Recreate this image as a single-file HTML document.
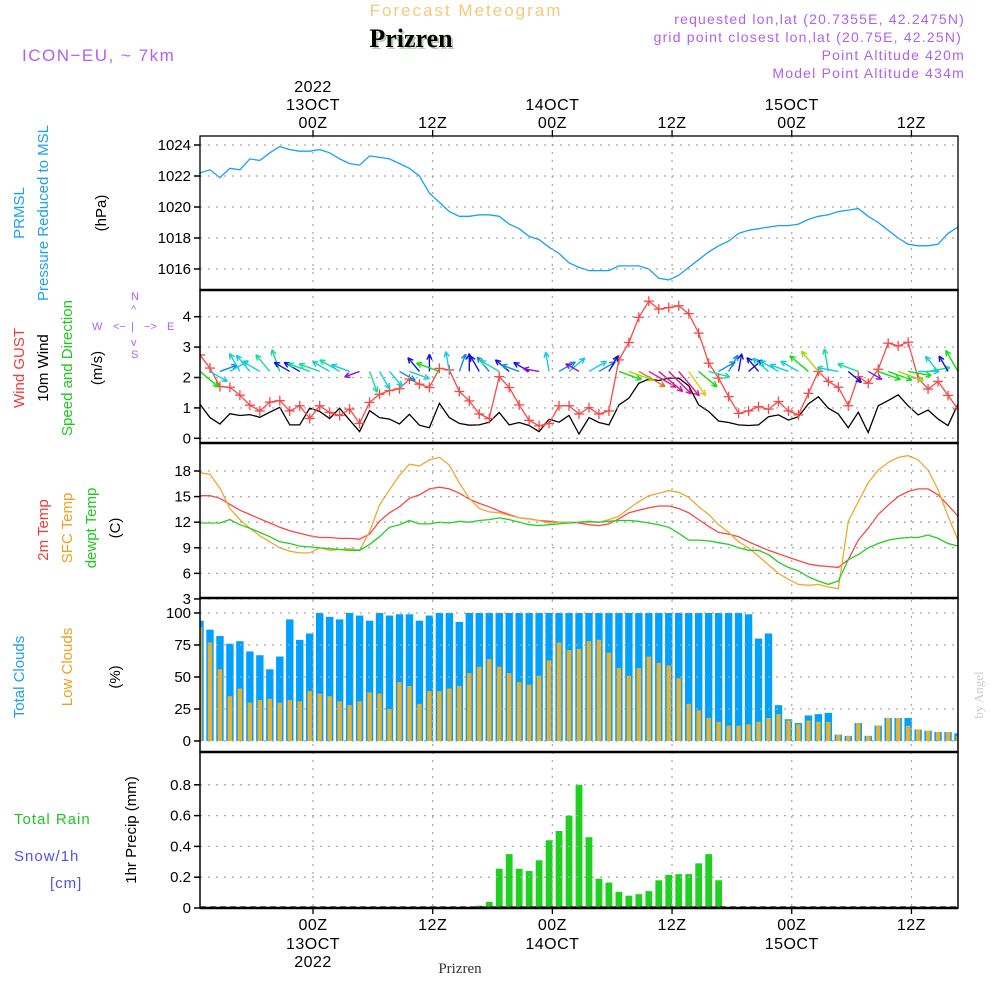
<!DOCTYPE html>
<html><head><meta charset="utf-8"><style>
html,body{margin:0;padding:0;background:#fff}
svg{display:block}
</style></head><body>
<svg id="chart" width="1000" height="1000" viewBox="0 0 1000 1000" xmlns="http://www.w3.org/2000/svg" font-family="Liberation Sans, sans-serif">
<rect width="1000" height="1000" fill="#fff"/>
<text x="466" y="16" text-anchor="middle" font-size="17" fill="#f5c97a" letter-spacing="2">Forecast Meteogram</text>
<text x="413" y="49" text-anchor="middle" font-size="26" font-weight="bold" style="font-family:'Liberation Serif',serif" fill="#b8d0b8">Prizren</text>
<text x="411" y="47" text-anchor="middle" font-size="26" font-weight="bold" style="font-family:'Liberation Serif',serif" fill="#000">Prizren</text>
<text x="22" y="61" font-size="17" fill="#b060f0" letter-spacing="1.5">ICON−EU, ~ 7km</text>
<g font-size="14" fill="#b060f0" text-anchor="end" letter-spacing="1.2">
<text x="965" y="24">requested lon,lat (20.7355E, 42.2475N)</text>
<text x="962" y="42">grid point closest lon,lat (20.75E, 42.25N)</text>
<text x="965" y="60">Point Altitude 420m</text>
<text x="965" y="78">Model Point Altitude 434m</text>
</g>
<g font-size="15">
<text transform="translate(24,213) rotate(-90)" text-anchor="middle" fill="#1ea0f0">PRMSL</text>
<text transform="translate(48,213) rotate(-90)" text-anchor="middle" fill="#1ea0f0">Pressure Reduced to MSL</text>
<text transform="translate(106,213) rotate(-90)" text-anchor="middle" fill="#000">(hPa)</text>
<text transform="translate(24,368) rotate(-90)" text-anchor="middle" fill="#f03c3c">Wind GUST</text>
<text transform="translate(48,368) rotate(-90)" text-anchor="middle" fill="#000">10m Wind</text>
<text transform="translate(72,368) rotate(-90)" text-anchor="middle" fill="#1ec81e">Speed and Direction</text>
<text transform="translate(102,368) rotate(-90)" text-anchor="middle" fill="#000">(m/s)</text>
<g fill="#b060f0" font-size="11"><text x="92" y="330">W</text><text x="167" y="330">E</text><text x="131" y="300">N</text><text x="131" y="358">S</text>
<text x="113" y="330">&lt;−</text><text x="131" y="330">|</text><text x="144" y="330">−&gt;</text><text x="131" y="313">^</text><text x="131" y="346">v</text></g>
<text transform="translate(48,530) rotate(-90)" text-anchor="middle" fill="#f03c3c">2m Temp</text>
<text transform="translate(72,528) rotate(-90)" text-anchor="middle" fill="#f0a020">SFC Temp</text>
<text transform="translate(96,528) rotate(-90)" text-anchor="middle" fill="#1ec81e">dewpt Temp</text>
<text transform="translate(120,528) rotate(-90)" text-anchor="middle" fill="#000">(C)</text>
<text transform="translate(24,677) rotate(-90)" text-anchor="middle" fill="#1ea0f0">Total Clouds</text>
<text transform="translate(72,667) rotate(-90)" text-anchor="middle" fill="#f0a020">Low Clouds</text>
<text transform="translate(120,677) rotate(-90)" text-anchor="middle" fill="#000">(%)</text>
<text x="14" y="824" fill="#1ec81e" letter-spacing="1">Total  Rain</text>
<text x="14" y="861" fill="#5050f0" letter-spacing="1">Snow/1h</text>
<text x="50" y="888" fill="#5050f0" letter-spacing="1">[cm]</text>
<text transform="translate(136,830) rotate(-90)" text-anchor="middle" fill="#000">1hr Precip (mm)</text>
</g>
<text x="460" y="973" text-anchor="middle" font-size="15" style="font-family:'Liberation Serif',serif" fill="#333">Prizren</text>
<text transform="translate(983,695) rotate(-90)" text-anchor="middle" font-size="13" style="font-family:'Liberation Serif',serif" fill="#ccc">by Angel</text>
<g id="plot"></g>
</svg>
<script>
const pressure=[1022.2,1022.4,1021.9,1022.5,1022.4,1023.1,1023.0,1023.5,1023.9,1023.7,1023.6,1023.6,1023.7,1023.5,1023.1,1022.8,1022.7,1023.3,1023.2,1023.1,1022.8,1022.5,1022.0,1020.9,1020.3,1019.7,1019.4,1019.4,1019.5,1019.5,1019.4,1018.9,1018.6,1018.1,1017.9,1017.4,1017.0,1016.4,1016.1,1015.9,1015.9,1015.9,1016.2,1016.2,1016.2,1016.0,1015.4,1015.3,1015.6,1016.1,1016.6,1017.1,1017.5,1017.8,1018.3,1018.5,1018.6,1018.7,1018.8,1018.8,1018.9,1019.2,1019.4,1019.5,1019.7,1019.8,1019.9,1019.4,1019.0,1018.5,1018.0,1017.6,1017.5,1017.5,1017.6,1018.3,1018.7];
const gust=[2.74,2.31,1.70,1.68,1.42,1.09,0.90,1.19,1.24,0.90,1.07,0.65,1.07,0.85,0.75,0.96,0.49,1.18,1.45,1.57,1.63,1.95,1.78,1.67,2.30,2.25,1.54,1.23,0.80,0.65,2.03,1.67,1.10,0.59,0.41,0.49,1.07,1.07,0.80,1.01,0.80,0.90,2.58,3.15,3.98,4.51,4.25,4.30,4.36,4.10,3.46,2.47,1.98,1.37,0.82,0.90,1.04,0.96,1.21,0.90,0.77,1.48,2.20,1.87,1.68,1.07,2.03,1.81,2.27,3.13,3.04,3.16,1.98,1.62,1.87,1.41,0.96];
const wind=[1.12,0.68,0.47,0.81,0.75,0.78,0.69,0.86,1.02,0.44,0.44,0.99,0.88,0.65,0.99,0.60,0.22,0.91,0.68,0.63,0.47,0.79,0.43,0.35,1.15,0.68,0.49,0.43,0.44,0.53,0.85,0.44,0.52,0.42,0.22,0.63,0.53,0.75,0.14,0.68,0.52,0.44,1.10,1.32,1.81,1.95,1.90,1.98,1.98,1.73,1.10,0.88,0.57,0.52,0.44,0.42,0.44,0.71,0.77,0.60,0.71,1.13,1.37,0.99,0.80,0.35,0.86,0.19,1.07,1.24,1.43,1.07,0.77,0.93,0.63,0.42,1.13];
const windDir=[-40,-30,20,30,120,130,150,130,110,150,150,160,160,150,150,160,200,-70,-60,-50,-30,-20,130,90,160,100,70,90,120,130,150,140,160,150,170,100,30,40,150,30,30,60,-20,-20,-30,-30,-40,-45,-50,-55,-40,-15,30,60,80,40,130,140,150,160,150,140,130,100,170,-40,160,-30,-20,-20,-20,-10,0,10,130,120,120];
const temp2m=[15.1,15.1,14.8,14.1,13.4,12.9,12.4,11.9,11.4,11.0,10.7,10.4,10.2,10.2,10.1,10.1,10.0,10.6,12.1,13.1,13.8,14.8,15.2,15.9,16.1,15.9,15.4,14.7,14.2,13.8,13.3,12.9,12.5,12.4,12.2,12.1,12.0,12.0,11.9,11.7,11.6,11.8,12.4,13.1,13.4,13.7,13.9,13.9,13.6,13.1,12.3,11.5,10.8,10.6,10.3,9.7,9.2,8.7,8.3,7.9,7.5,7.1,6.9,6.8,6.7,7.6,9.9,11.3,12.9,14.0,15.0,15.6,15.9,15.9,15.2,14.0,12.7];
const tempSfc=[17.8,17.6,16.0,13.6,12.3,11.3,10.4,9.7,9.0,8.6,8.4,8.4,9.0,8.7,8.8,8.9,8.7,10.9,14.0,15.8,17.5,18.8,18.6,19.3,19.6,18.7,16.6,14.8,13.6,13.2,13.1,12.8,12.5,12.4,12.2,11.9,12.0,12.0,12.0,12.0,12.0,12.3,12.7,13.6,14.4,15.1,15.4,15.7,15.5,14.9,13.8,12.9,11.7,10.8,9.7,9.0,8.0,7.0,6.0,5.3,4.7,4.6,4.7,4.4,4.2,12.1,14.4,16.6,18.1,19.0,19.6,19.8,19.3,18.1,15.8,12.7,9.9];
const dewpt=[11.9,11.9,11.9,12.3,11.7,11.3,10.8,10.3,9.7,9.5,9.2,9.1,9.0,8.9,8.8,8.7,8.7,9.4,10.3,11.4,11.7,12.2,11.8,11.8,12.0,11.9,12.1,12.0,12.2,12.3,12.5,12.3,12.0,11.7,11.6,11.7,11.8,11.9,12.0,12.1,12.0,12.1,12.2,12.2,12.1,11.9,11.7,11.4,10.7,9.9,9.9,9.8,9.6,9.4,9.0,8.7,8.7,8.2,7.3,6.7,6.3,5.6,5.1,4.7,5.1,7.6,8.2,9.0,9.5,9.9,10.1,10.2,10.2,10.5,10.1,9.5,9.2];
const totalClouds=[94,87,82,76,78,70,67,56,66,95,79,84,100,97,95,100,98,94,100,98,99,99,94,98,100,100,93,100,100,100,100,100,100,100,100,100,100,100,100,100,100,100,100,100,100,100,100,100,100,100,100,100,100,100,100,99,80,84,28,17,14,20,21,22,5,4,14,4,12,18,18,18,9,8,7,7,6];
const lowClouds=[89,77,56,35,41,30,32,33,30,32,31,39,37,35,31,28,31,38,37,25,46,43,29,39,39,41,43,53,58,64,58,53,46,44,51,63,77,71,72,78,79,69,57,51,57,66,61,59,49,29,24,18,15,12,12,13,15,18,21,16,13,16,15,15,5,4,14,4,12,18,18,12,9,8,7,7,4];
const precipStart=28;
const precip=[0.015,0.04,0.255,0.35,0.255,0.24,0.31,0.44,0.5,0.6,0.8,0.46,0.19,0.165,0.105,0.08,0.09,0.11,0.18,0.215,0.22,0.22,0.29,0.35,0.18];
const pressTicks=[1016,1018,1020,1022,1024];
const windTicks=[0,1,2,3,4];
const tempTicks=[3,6,9,12,15,18];
const cloudTicks=[0,25,50,75,100];
const precipTicks=[0,0.2,0.4,0.6,0.8];
const timeTicks=[11.33,23.33,35.33,47.33,59.33,71.33];
const timeHours=["00Z","12Z","00Z","12Z","00Z","12Z"];
const timeDays=["13OCT","","14OCT","","15OCT",""];

const NS="http://www.w3.org/2000/svg";
const plot=document.getElementById('plot');
const X0=200,X1=958,N=76;
const xs=i=>X0+i*(X1-X0)/N;
const yP=v=>145+(1024-v)*15.5;
const yW=v=>438.3-v*30.4;
const yT=v=>471+(18-v)*8.53;
const yC=v=>741-v*1.28;
const yR=v=>908-v*154;
const panels=[[136,290],[290,443],[443,598],[598,752],[752,908]];
function el(tag,attrs,parent){const e=document.createElementNS(NS,tag);for(const k in attrs)e.setAttribute(k,attrs[k]);(parent||plot).appendChild(e);return e;}
const defs=el('defs',{});
const cp=el('clipPath',{id:'clip'},defs);
el('rect',{x:X0,y:136,width:X1-X0,height:772},cp);
const clipG=el('g',{'clip-path':'url(#clip)'});

const grid=el('g',{stroke:'#aaa','stroke-width':1.3,'stroke-dasharray':'2,6'});


timeTicks.forEach(t=>el('line',{x1:xs(t),x2:xs(t),y1:136,y2:908},grid));
function hgrid(ticks,f,name,fmt){
  const g=el('g',{});
  
  
  ticks.forEach(v=>{
    const y=f(v);
    el('line',{x1:X0,x2:X1,y1:y,y2:y,stroke:'#aaa','stroke-width':1.3,'stroke-dasharray':'2,6'},g);
    el('line',{x1:X0-6,x2:X0,y1:y,y2:y,stroke:'#000','stroke-width':1.5},g);
    const t=el('text',{x:X0-9,y:y+5,'text-anchor':'end','font-size':15,fill:'#000'},g);
    t.textContent=fmt(v);
  });
}
hgrid(pressTicks,yP,'pressure-y-axis',v=>v);
hgrid(windTicks,yW,'wind-y-axis',v=>v);
hgrid(tempTicks,yT,'temp-y-axis',v=>v);
hgrid(cloudTicks,yC,'cloud-y-axis',v=>v);
hgrid(precipTicks,yR,'precip-y-axis',v=>v===0?'0':v.toFixed(1));

function line(arr,f,color,name,w){
  const p=el('polyline',{points:arr.map((v,i)=>xs(i).toFixed(1)+','+f(v).toFixed(1)).join(' '),fill:'none',stroke:color,'stroke-width':w||1.3},clipG);
  
  
}
line(pressure,yP,'#18a0f8','pressure-line');

totalClouds.forEach((v,i)=>{
  const r=el('rect',{x:xs(i)-3.7,y:yC(v),width:7.4,height:yC(0)-yC(v),fill:'#00a0ff'},clipG);
  
  
});
lowClouds.forEach((v,i)=>{
  const r=el('rect',{x:xs(i)-2.2,y:yC(v),width:4.4,height:yC(0)-yC(v),fill:'#e8b030'},clipG);
  
  
});
precip.forEach((v,k)=>{
  const i=precipStart+k;
  const r=el('rect',{x:xs(i)-3.4,y:yR(v),width:6.8,height:yR(0)-yR(v),fill:'#20d020'},clipG);
  
  
});
el('line',{x1:X0,x2:X1,y1:yR(0)-1,y2:yR(0)-1,stroke:'#000','stroke-width':1.3,'stroke-dasharray':'6,4'},clipG);

line(temp2m,yT,'#f84848','temp-2m-line');
line(tempSfc,yT,'#f0a830','temp-sfc-line');
line(dewpt,yT,'#20d020','dewpoint-line');

line(wind,yW,'#000','wind-10m-line');
line(gust,yW,'#f84848','gust-line');
gust.forEach((v,i)=>{
  const g=el('g',{stroke:'#f84848','stroke-width':1.3},clipG);
  
  
  const x=xs(i),y=yW(v);
  el('line',{x1:x-5,x2:x+5,y1:y,y2:y},g);
  el('line',{x1:x,x2:x,y1:y-5,y2:y+5},g);
});
function windColor(s){
  const stops=[[0,275],[0.3,240],[0.45,205],[0.6,185],[0.85,160],[1.05,120],[1.25,80],[1.5,55],[1.75,30],[1.9,320]];
  let h=stops[0][1];
  for(let k=0;k<stops.length;k++){if(s>=stops[k][0])h=stops[k][1];}
  return 'hsl('+h+',85%,47%)';
}
windDir.forEach((d,i)=>{
  const s=wind[i];
  const len=14+s*9;
  const a=d*Math.PI/180;
  const x0=xs(i),y0=yW(2.2);
  const x1=x0+len*Math.cos(a),y1=y0-len*Math.sin(a);
  const c=windColor(s);
  const g=el('g',{stroke:c,'stroke-width':1.4,fill:'none'},clipG);
  
  
  el('line',{x1:x0,y1:y0,x2:x1,y2:y1},g);
  const h=6;
  [a+2.7,a-2.7].forEach(b=>el('line',{x1:x1,y1:y1,x2:x1+h*Math.cos(b),y2:y1-h*Math.sin(b)},g));
});

panels.forEach(([a,b],k)=>{
  const r=el('rect',{x:X0,y:a,width:X1-X0,height:b-a,fill:'none',stroke:'#000','stroke-width':k===0?1.3:1.5});
  
  
});
[290,443,598,752,908].forEach(y=>el('line',{x1:X0,x2:X1,y1:y,y2:y,stroke:'#000','stroke-width':2.5}));

timeTicks.forEach((t,k)=>{
  const x=xs(t);
  el('line',{x1:x,x2:x,y1:130,y2:136,stroke:'#000','stroke-width':1.3});
  el('line',{x1:x,x2:x,y1:908,y2:914,stroke:'#000','stroke-width':1.3});
  const g=el('g',{'font-size':16,fill:'#000','text-anchor':'middle','letter-spacing':'0.5'});
  
  
  let t1=el('text',{x:x,y:128},g);t1.textContent=timeHours[k];
  let t2=el('text',{x:x,y:930},g);t2.textContent=timeHours[k];
  if(timeDays[k]){
    let t3=el('text',{x:x,y:110},g);t3.textContent=timeDays[k];
    let t4=el('text',{x:x,y:949},g);t4.textContent=timeDays[k];
  }
  if(k===0){
    let t5=el('text',{x:x,y:92},g);t5.textContent='2022';
    let t6=el('text',{x:x,y:967},g);t6.textContent='2022';
  }
});
</script>
</body></html>
